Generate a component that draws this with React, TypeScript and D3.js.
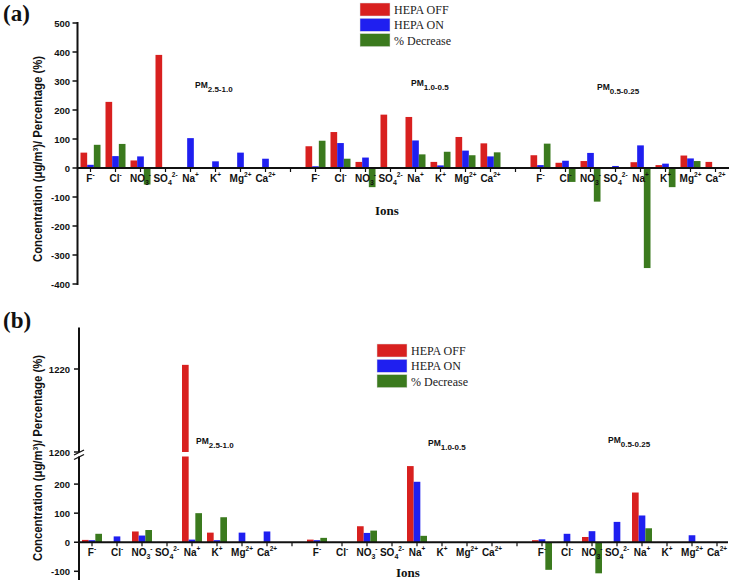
import React from "react";
import * as d3 from "d3";

// ---------- data ----------
const groups = ["2.5-1.0", "1.0-0.5", "0.5-0.25"];
const ionBase = ["F", "Cl", "NO", "SO", "Na", "K", "Mg", "Ca"];
const ionSub = ["", "", "3", "4", "", "", "", ""];
const ionSup = ["-", "-", "-", "2-", "+", "+", "2+", "2+"];
const seriesNames = ["HEPA OFF", "HEPA ON", "% Decrease"];

// Panel (a): values per group (8 ions x 3 groups)
const offA = [53, 228, 26, 390, 0, 0, 0, 0, 75, 124, 21, 184, 176, 21, 107, 85, 44, 18, 24, 0, 20, 10, 43, 21];
const onA = [11, 41, 40, 0, 103, 23, 53, 32, 6, 86, 36, 0, 95, 9, 60, 40, 10, 25, 52, 7, 78, 15, 33, 0];
const decA = [80, 83, -57, 0, 0, 0, 0, 0, 94, 32, -66, 0, 47, 56, 44, 54, 84, -48, -116, 0, -345, -66, 24, 0];

// Panel (b)
const offB = [8, 1, 37, 1, 1221, 33, 1, 1, 9, 1, 55, 1, 262, 1, 1, 1, 7, 1, 18, 1, 171, 1, 1, 1];
const onB = [7, 20, 23, 1, 9, 7, 33, 37, 7, 1, 32, 1, 208, 1, 1, 1, 10, 29, 38, 70, 92, 1, 24, 1];
const decB = [29, 0, 42, 1, 100, 86, 0, 0, 15, 0, 40, 0, 22, 0, 0, 0, -95, 0, -107, 0, 48, 0, 0, 0];

const yTicksA = [-400, -300, -200, -100, 0, 100, 200, 300, 400, 500];
const yTicksBLow = [-100, 0, 100, 200];
const yTicksBHigh = [1200, 1220];

const colors = ["#d8201f", "#1f1ff0", "#3b7a1e"];

// ---------- layout ----------
const slots = d3.range(26);
const slotOf = (g: number, i: number) => g * 9 + i;

const xA = d3.scaleBand<number>().domain(slots).range([78, 728]).paddingInner(0).paddingOuter(0);
const xB = d3.scaleBand<number>().domain(slots).range([79.5, 729.5]).paddingInner(0).paddingOuter(0);
const inner = d3.scaleBand<number>().domain([0, 1, 2]).range([-10, 10]).padding(0);

const yA = d3.scaleLinear().domain([-400, 500]).range([284, 23]);
const LOW_TOP = 295;
const yBL = d3.scaleLinear().domain([-130, LOW_TOP]).range([580, 456.5]);
const yBU = d3.scaleLinear().domain([1200, 1230]).range([452, 327.5]);

const sans = "'Liberation Sans', Arial, Helvetica, sans-serif";
const serif = "'Liberation Serif', 'Times New Roman', serif";

function IonLabel({ x, y, i }: { x: number; y: number; i: number }) {
  const sub = ionSub[i];
  const sup = ionSup[i];
  return (
    <text x={x} y={y} textAnchor="middle" fontFamily={sans} fontWeight="bold" fontSize={10} fill="#111">
      <tspan>{ionBase[i]}</tspan>
      {sub ? (
        <tspan fontSize={7} dy={3}>
          {sub}
        </tspan>
      ) : null}
      <tspan fontSize={6.5} dy={sub ? -8 : -5}>
        {sup}
      </tspan>
    </text>
  );
}

function PMLabel({ x, y, g }: { x: number; y: number; g: number }) {
  return (
    <text x={x} y={y} fontFamily={sans} fontWeight="bold" fontSize={8.5} fill="#111">
      <tspan>PM</tspan>
      <tspan fontSize={8} dy={4}>
        {groups[g]}
      </tspan>
    </text>
  );
}

function Legend({ x, y }: { x: number; y: number }) {
  return (
    <g>
      {seriesNames.map((s, k) => (
        <g key={s}>
          <rect x={x} y={y + k * 15.3} width={30} height={13} fill={colors[k]} stroke="#ddd" strokeWidth={0.5} />
          <text x={x + 34} y={y + k * 15.3 + 11} fontFamily={serif} fontSize={12} fill="#222">
            {s}
          </text>
        </g>
      ))}
    </g>
  );
}

function YLabel({ cx, cy }: { cx: number; cy: number }) {
  return (
    <text
      transform={`translate(${cx},${cy}) rotate(-90)`}
      textAnchor="middle"
      fontFamily={sans}
      fontWeight="bold"
      fontSize={12}
      textLength={206}
      lengthAdjust="spacingAndGlyphs"
      fill="#111"
      dy={4}
    >
      Concentration (μg/m³)/ Percentage (%)
    </text>
  );
}

export default function App() {
  const seriesA = [offA, onA, decA];
  const seriesB = [offB, onB, decB];
  const y0A = yA(0);
  const y0B = yBL(0);

  const barsA: React.ReactNode[] = [];
  seriesA.forEach((vals, k) => {
    vals.forEach((v, idx) => {
      if (!v) return;
      const g = Math.floor(idx / 8);
      const i = idx % 8;
      const cx = (xA(slotOf(g, i)) as number) + xA.bandwidth() / 2;
      const x = cx + (inner(k) as number);
      const y1 = yA(Math.max(v, 0));
      const y2 = yA(Math.min(v, 0));
      barsA.push(<rect key={`a${k}-${idx}`} x={x} y={y1} width={inner.bandwidth()} height={Math.max(y2 - y1, 0.4)} fill={colors[k]} />);
    });
  });

  const barsB: React.ReactNode[] = [];
  seriesB.forEach((vals, k) => {
    vals.forEach((v, idx) => {
      if (!v) return;
      const g = Math.floor(idx / 8);
      const i = idx % 8;
      const cx = (xB(slotOf(g, i)) as number) + xB.bandwidth() / 2;
      const x = cx + (inner(k) as number);
      const w = inner.bandwidth();
      if (v < 0) {
        barsB.push(<rect key={`b${k}-${idx}`} x={x} y={y0B} width={w} height={yBL(v) - y0B} fill={colors[k]} />);
      } else if (v <= LOW_TOP) {
        const yt = yBL(v);
        barsB.push(<rect key={`b${k}-${idx}`} x={x} y={yt} width={w} height={Math.max(y0B - yt, 0.4)} fill={colors[k]} />);
      } else {
        const yt = yBL(LOW_TOP);
        barsB.push(<rect key={`b${k}-${idx}`} x={x} y={yt} width={w} height={y0B - yt} fill={colors[k]} />);
        const yu = yBU(Math.min(v, 1230));
        barsB.push(<rect key={`bu${k}-${idx}`} x={x} y={yu} width={w} height={yBU(1200) - yu} fill={colors[k]} />);
      }
    });
  });

  const axA = 77.5;
  const axB = 79;

  return (
    <svg width={733} height={583} style={{ position: "absolute", left: 0, top: 0, background: "#fff" }}>
      <rect x={0} y={0} width={733} height={583} fill="#fff" />

      {/* ---------------- Panel (a) ---------------- */}
      <text x={3} y={21} fontFamily={serif} fontWeight="bold" fontSize={23} fill="#111">
        (a)
      </text>
      <YLabel cx={38} cy={159} />
      <Legend x={360} y={3} />
      {barsA}
      {/* y axis */}
      <line x1={axA} x2={axA} y1={yA(500) - 1} y2={yA(-400) + 1} stroke="#111" strokeWidth={2} />
      {yTicksA.map((t) => (
        <g key={`ya${t}`}>
          <line x1={axA - 5} x2={axA} y1={yA(t)} y2={yA(t)} stroke="#111" strokeWidth={1.5} />
          <text x={70} y={yA(t) + 3.5} textAnchor="end" fontFamily={sans} fontWeight="bold" fontSize={9.5} fill="#111">
            {t}
          </text>
        </g>
      ))}
      {/* x axis */}
      <line x1={axA} x2={729} y1={y0A} y2={y0A} stroke="#111" strokeWidth={2} />
      {slots.map((s) => {
        const cx = (xA(s) as number) + xA.bandwidth() / 2;
        return <line key={`xta${s}`} x1={cx} x2={cx} y1={y0A} y2={y0A + 4} stroke="#111" strokeWidth={1.2} />;
      })}
      {slots.map((s) => {
        const g = Math.floor(s / 9);
        const i = s % 9;
        if (i === 8) return null;
        const cx = (xA(s) as number) + xA.bandwidth() / 2;
        return <IonLabel key={`xla${s}`} x={cx} y={y0A + 14} i={i} />;
      })}
      <PMLabel x={195} y={88} g={0} />
      <PMLabel x={411} y={86} g={1} />
      <PMLabel x={597} y={90} g={2} />
      <text x={387} y={215} textAnchor="middle" fontFamily={serif} fontWeight="bold" fontSize={13} fill="#111">
        Ions
      </text>

      {/* ---------------- Panel (b) ---------------- */}
      <text x={3} y={328} fontFamily={serif} fontWeight="bold" fontSize={23} fill="#111">
        (b)
      </text>
      <YLabel cx={38} cy={458} />
      <Legend x={377} y={344} />
      {barsB}
      {/* y axis: lower segment */}
      <line x1={axB} x2={axB} y1={yBL(LOW_TOP)} y2={yBL(-130)} stroke="#111" strokeWidth={2} />
      {/* y axis: upper segment */}
      <line x1={axB} x2={axB} y1={yBU(1230)} y2={yBU(1200)} stroke="#111" strokeWidth={2} />
      {/* break marks */}
      <line x1={axB - 5} x2={axB + 5} y1={yBU(1200) + 3} y2={yBU(1200) - 2} stroke="#111" strokeWidth={1.3} />
      <line x1={axB - 5} x2={axB + 5} y1={yBL(LOW_TOP) + 3} y2={yBL(LOW_TOP) - 2} stroke="#111" strokeWidth={1.3} />
      {yTicksBLow.map((t) => (
        <g key={`ybl${t}`}>
          <line x1={axB - 5} x2={axB} y1={yBL(t)} y2={yBL(t)} stroke="#111" strokeWidth={1.5} />
          <text x={70} y={yBL(t) + 3.5} textAnchor="end" fontFamily={sans} fontWeight="bold" fontSize={9.5} fill="#111">
            {t}
          </text>
        </g>
      ))}
      {yTicksBHigh.map((t) => (
        <g key={`ybh${t}`}>
          <line x1={axB - 5} x2={axB} y1={yBU(t)} y2={yBU(t)} stroke="#111" strokeWidth={1.5} />
          <text x={70} y={yBU(t) + 3.5} textAnchor="end" fontFamily={sans} fontWeight="bold" fontSize={9.5} fill="#111">
            {t}
          </text>
        </g>
      ))}
      {/* x axis */}
      <line x1={axB} x2={728} y1={y0B} y2={y0B} stroke="#111" strokeWidth={2} />
      {slots.map((s) => {
        const cx = (xB(s) as number) + xB.bandwidth() / 2;
        return <line key={`xtb${s}`} x1={cx} x2={cx} y1={y0B} y2={y0B + 4} stroke="#111" strokeWidth={1.2} />;
      })}
      {slots.map((s) => {
        const i = s % 9;
        if (i === 8) return null;
        const cx = (xB(s) as number) + xB.bandwidth() / 2;
        return <IonLabel key={`xlb${s}`} x={cx} y={y0B + 14} i={i} />;
      })}
      <PMLabel x={196} y={444} g={0} />
      <PMLabel x={428} y={446} g={1} />
      <PMLabel x={608} y={443} g={2} />
      <text x={408} y={577} textAnchor="middle" fontFamily={serif} fontWeight="bold" fontSize={13} fill="#111">
        Ions
      </text>
    </svg>
  );
}
